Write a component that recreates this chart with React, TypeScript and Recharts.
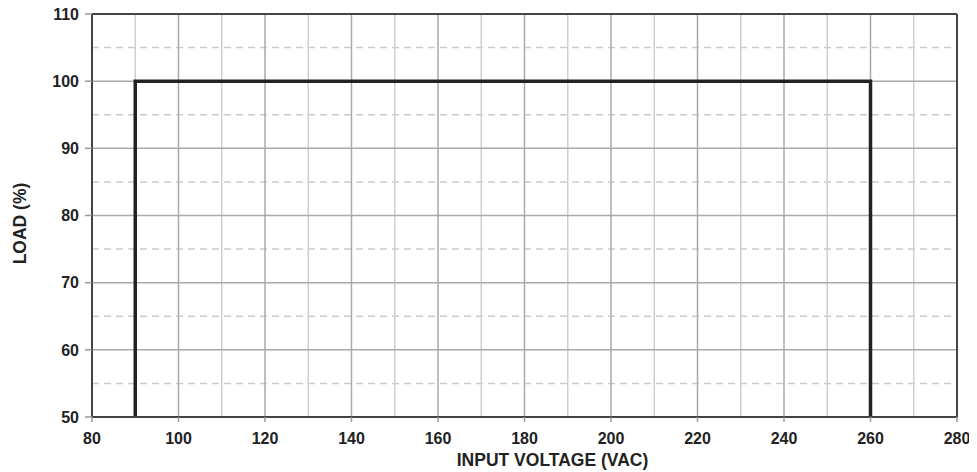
import React from 'react';
import { ComposedChart, Line, XAxis, YAxis, ReferenceLine, Label } from 'recharts';

const xTicks = [80, 100, 120, 140, 160, 180, 200, 220, 240, 260, 280];
const yTicks = [50, 60, 70, 80, 90, 100, 110];
const xMajorGrid = [100, 120, 140, 160, 180, 200, 220, 240, 260];
const xMinorGrid = [90, 110, 130, 150, 170, 190, 210, 230, 250, 270];
const yMajorGrid = [60, 70, 80, 90, 100];
const yMinorGrid = [55, 65, 75, 85, 95, 105];

const voltage = [90, 90, 260, 260];
const load = [50, 100, 100, 50];
const data = voltage.map((v, i) => ({ v, load: load[i] }));

const FONT = '"Liberation Sans", Arial, Helvetica, sans-serif';
const tickStyle = { fontFamily: FONT, fontWeight: 700, fontSize: 16, fill: '#222' };

export default function App() {
  return (
    <div style={{ marginLeft: -8, marginTop: -8, width: 977, height: 472, background: '#fff' }}>
      <ComposedChart width={977} height={472} data={data} margin={{ top: 14, right: 20, bottom: 18, left: 20 }}>
        <XAxis
          dataKey="v"
          type="number"
          domain={[80, 280]}
          ticks={xTicks}
          interval={0}
          allowDataOverflow
          height={37}
          tickSize={5}
          tickMargin={11}
          tick={tickStyle}
          axisLine={{ stroke: '#444', strokeWidth: 2 }}
          tickLine={{ stroke: '#999', strokeWidth: 1.5 }}
        >
          <Label
            content={(props: any) => {
              const vb = props.viewBox;
              return (
                <text
                  x={vb.x + vb.width / 2 + 28}
                  y={vb.y + vb.height + 12}
                  textAnchor="middle"
                  style={{ fontFamily: FONT, fontWeight: 700, fontSize: 17.5, fill: '#222' }}
                >
                  INPUT VOLTAGE (VAC)
                </text>
              );
            }}
          />
        </XAxis>
        <YAxis
          type="number"
          domain={[50, 110]}
          ticks={yTicks}
          interval={0}
          allowDataOverflow
          width={72}
          tickSize={7}
          tickMargin={6}
          tick={tickStyle}
          axisLine={{ stroke: '#444', strokeWidth: 2 }}
          tickLine={{ stroke: '#999', strokeWidth: 1.5 }}
        >
          <Label
            content={(props: any) => {
              const vb = props.viewBox;
              const cx = vb.x;
              const cy = vb.y + vb.height / 2 + 8;
              return (
                <text
                  x={cx}
                  y={cy}
                  transform={`rotate(-90, ${cx}, ${cy})`}
                  textAnchor="middle"
                  dominantBaseline="central"
                  style={{ fontFamily: FONT, fontWeight: 700, fontSize: 17.5, fill: '#222' }}
                >
                  LOAD (%)
                </text>
              );
            }}
          />
        </YAxis>
        {yMinorGrid.map((y) => (
          <ReferenceLine key={'ym' + y} y={y} stroke="#ccc" strokeWidth={1.5} strokeDasharray="7 5" />
        ))}
        {xMinorGrid.map((x) => (
          <ReferenceLine key={'xm' + x} x={x} stroke="#d0d0d0" strokeWidth={1.5} />
        ))}
        {yMajorGrid.map((y) => (
          <ReferenceLine key={'yM' + y} y={y} stroke="#aaa" strokeWidth={1.5} />
        ))}
        {xMajorGrid.map((x) => (
          <ReferenceLine key={'xM' + x} x={x} stroke="#aaa" strokeWidth={1.5} />
        ))}
        <ReferenceLine y={110} stroke="#444" strokeWidth={2} />
        <ReferenceLine x={280} stroke="#444" strokeWidth={2} />
        <Line
          type="linear"
          dataKey="load"
          stroke="#222"
          strokeWidth={3.5}
          dot={false}
          activeDot={false}
          isAnimationActive={false}
          strokeLinejoin="miter"
        />
      </ComposedChart>
    </div>
  );
}
